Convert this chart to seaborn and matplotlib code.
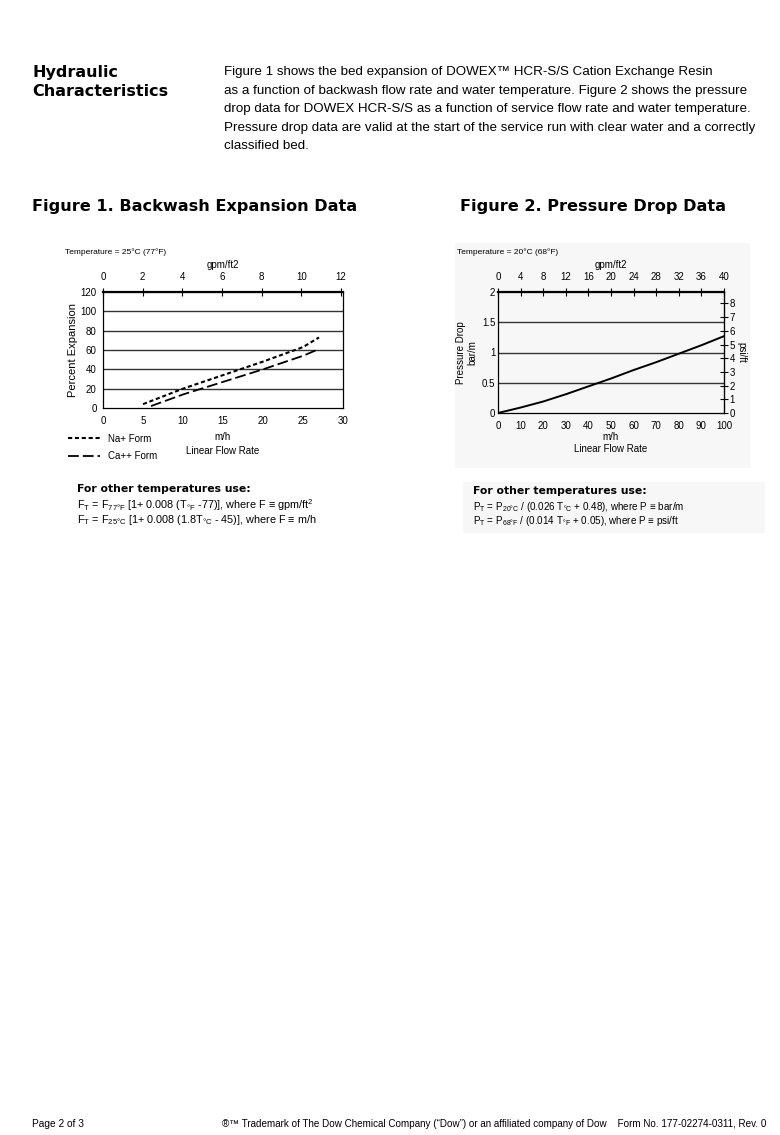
import pandas as pd
import matplotlib.pyplot as plt
import seaborn as sns
from matplotlib.patches import Rectangle
from matplotlib.ticker import MultipleLocator

# Figure 1 - backwash expansion (m/h vs % expansion)
na_flow = [5, 10, 15, 20, 25, 27]
na_expansion = [4, 20, 34, 48, 63, 73]
ca_flow = [6, 10, 15, 20, 25, 27]
ca_expansion = [2, 14, 27, 40, 54, 61]

# Figure 2 - pressure drop (m/h vs bar/m)
dp_flow = [0, 10, 20, 30, 40, 50, 60, 70, 80, 90, 100]
dp_bar = [0, 0.09, 0.19, 0.31, 0.44, 0.57, 0.71, 0.84, 0.98, 1.12, 1.27]

body_lines = [
    "Figure 1 shows the bed expansion of DOWEX\u2122 HCR-S/S Cation Exchange Resin",
    "as a function of backwash flow rate and water temperature. Figure 2 shows the pressure",
    "drop data for DOWEX HCR-S/S as a function of service flow rate and water temperature.",
    "Pressure drop data are valid at the start of the service run with clear water and a correctly",
    "classified bed.",
]

sns.set_style("white")
plt.rcParams["font.family"] = ["Liberation Sans", "DejaVu Sans"]
plt.rcParams["mathtext.fontset"] = "custom"
plt.rcParams["mathtext.rm"] = "Liberation Sans"
for k in ["text.color", "axes.labelcolor", "xtick.color", "ytick.color"]:
    plt.rcParams[k] = "black"
heavy = ["DejaVu Sans"]

W, H = 780, 1135
fig = plt.figure(figsize=(W / 100, H / 100), dpi=100)


def px(x, y):
    return x / W, 1 - y / H


def txt(x, y, s, **kw):
    fig.text(*px(x, y), s, va="center", **kw)


# header text
txt(32, 72, "Hydraulic", fontsize=11.5, fontweight="bold", family=heavy)
txt(32, 92, "Characteristics", fontsize=11.5, fontweight="bold", family=heavy)
for i, line in enumerate(body_lines):
    txt(224, 72 + i * 18.6, line, fontsize=9.6)

txt(32, 207, "Figure 1. Backwash Expansion Data", fontsize=11.6, fontweight="bold", family=heavy)
txt(460, 207, "Figure 2. Pressure Drop Data", fontsize=11.6, fontweight="bold", family=heavy)

# faint grey backgrounds behind figure 2 and its formula box
fig.patches.append(Rectangle(px(455, 468), 295 / W, 225 / H, transform=fig.transFigure,
                             facecolor="#f7f7f7", edgecolor="none", zorder=-1))
fig.patches.append(Rectangle(px(463, 533), 302 / W, 51 / H, transform=fig.transFigure,
                             facecolor="#f7f7f7", edgecolor="none", zorder=-1))

tick_fs = 7
lab_fs = 7
grid_c = "#333333"

# ---------------- Figure 1 ----------------
ax1 = fig.add_axes([103 / W, 1 - 408 / H, 240 / W, 116 / H])
na = pd.DataFrame({"flow": na_flow, "exp": na_expansion})
ca = pd.DataFrame({"flow": ca_flow, "exp": ca_expansion})
sns.lineplot(data=na, x="flow", y="exp", ax=ax1, color="black", lw=1.5,
             label="Na+ Form")
sns.lineplot(data=ca, x="flow", y="exp", ax=ax1, color="black", lw=1.3,
             label="Ca++ Form")
ax1.lines[0].set_dashes((2, 1.3))
ax1.lines[1].set_dashes((6, 2.2))
ax1.set_xlim(0, 30)
ax1.set_ylim(0, 120)
ax1.xaxis.set_major_locator(MultipleLocator(5))
ax1.xaxis.set_minor_locator(MultipleLocator(1))
ax1.yaxis.set_major_locator(MultipleLocator(20))
for y in range(20, 120, 20):
    ax1.axhline(y, color=grid_c, lw=1.0, zorder=0)
ax1.tick_params(axis="x", which="both", direction="inout", labelsize=tick_fs, pad=3)
ax1.tick_params(axis="x", which="major", length=6, width=0.8)
ax1.tick_params(axis="x", which="minor", length=4, width=0.8)
ax1.tick_params(axis="y", direction="out", length=3, labelsize=tick_fs, pad=1.5)
ax1.set_xlabel("m/h\nLinear Flow Rate", fontsize=lab_fs, labelpad=4, linespacing=1.5)
ax1.set_ylabel("Percent Expansion", fontsize=8, labelpad=2)
for s in ax1.spines.values():
    s.set_color("black")
    s.set_linewidth(0.9)
ax1.spines["top"].set_linewidth(1.6)
top1 = ax1.secondary_xaxis("top", functions=(lambda v: v / 2.48, lambda v: v * 2.48))
top1.set_ticks(range(0, 13, 2))
top1.tick_params(direction="inout", length=6, width=0.8, labelsize=tick_fs, pad=4)
top1.set_xlabel("gpm/ft2", fontsize=lab_fs, labelpad=3)
handles, labels = ax1.get_legend_handles_labels()
ax1.get_legend().remove()
fig.legend(handles, labels, loc="upper left", bbox_to_anchor=px(64, 430), frameon=False,
           fontsize=lab_fs, handlelength=3.3, handletextpad=0.8, labelspacing=0.75,
           borderaxespad=0)
txt(65, 252, "Temperature = 25\u00b0C (77\u00b0F)", fontsize=6)

# ---------------- Figure 2 ----------------
ax2 = fig.add_axes([498 / W, 1 - 413 / H, 226 / W, 121 / H])
dp = pd.DataFrame({"flow": dp_flow, "bar": dp_bar})
sns.lineplot(data=dp, x="flow", y="bar", ax=ax2, color="black", lw=1.4)
ax2.set_xlim(0, 100)
ax2.set_ylim(0, 2)
ax2.xaxis.set_major_locator(MultipleLocator(10))
ax2.set_yticks([0, 0.5, 1, 1.5, 2], ["0", "0.5", "1", "1.5", "2"])
for y in [0.5, 1.0, 1.5]:
    ax2.axhline(y, color=grid_c, lw=1.0, zorder=0)
ax2.tick_params(axis="x", direction="inout", length=5, width=0.8, labelsize=tick_fs, pad=3)
ax2.tick_params(axis="y", direction="in", length=3, labelsize=tick_fs, pad=2)
ax2.set_xlabel("m/h\nLinear Flow Rate", fontsize=lab_fs, labelpad=1, linespacing=1.2)
ax2.set_ylabel("Pressure Drop\nbar/m", fontsize=lab_fs, labelpad=3, linespacing=1.2)
ax2.set_facecolor("none")
for s in ax2.spines.values():
    s.set_color("black")
    s.set_linewidth(0.9)
ax2.spines["top"].set_linewidth(1.6)
top2 = ax2.secondary_xaxis("top", functions=(lambda v: v / 2.5, lambda v: v * 2.5))
top2.set_ticks(range(0, 41, 4))
top2.tick_params(direction="inout", length=6, width=0.8, labelsize=tick_fs, pad=4)
top2.set_xlabel("gpm/ft2", fontsize=lab_fs, labelpad=3)
right2 = ax2.secondary_yaxis("right", functions=(lambda v: v * 4.42, lambda v: v / 4.42))
right2.set_ticks(range(0, 9))
right2.tick_params(direction="inout", length=6, width=0.8, labelsize=tick_fs, pad=1)
right2.set_ylabel("psi/ft", fontsize=lab_fs, rotation=270, labelpad=8)
txt(457, 252, "Temperature = 20\u00b0C (68\u00b0F)", fontsize=6)

# ---------------- formulas ----------------
eq = "\u2261"
txt(77, 489, "For other temperatures use:", fontsize=7.8, fontweight="bold", family=heavy)
txt(77, 505, r"F$_\mathregular{T}$ = F$_\mathregular{77\degree F}$ [1+ 0.008 (T$_\mathregular{\degree F}$ -77)], where F "
    + eq + r" gpm/ft$^\mathregular{2}$", fontsize=7.8)
txt(77, 520, r"F$_\mathregular{T}$ = F$_\mathregular{25\degree C}$ [1+ 0.008 (1.8T$_\mathregular{\degree C}$ - 45)], where F "
    + eq + " m/h", fontsize=7.8)

txt(473, 491, "For other temperatures use:", fontsize=7.8, fontweight="bold", family=heavy)
txt(473, 507, r"P$_\mathregular{T}$ = P$_\mathregular{20\degree C}$ / (0.026 T$_\mathregular{\degree C}$ + 0.48), where P "
    + eq + " bar/m", fontsize=7.1)
txt(473, 521, r"P$_\mathregular{T}$ = P$_\mathregular{68\degree F}$ / (0.014 T$_\mathregular{\degree F}$ + 0.05), where P "
    + eq + " psi/ft", fontsize=7.1)

# footer
txt(32, 1124, "Page 2 of 3", fontsize=7.3)
fig.text(*px(766, 1124),
         "\u00ae\u2122 Trademark of The Dow Chemical Company (\u201cDow\u201d) or an affiliated company of Dow"
         "    Form No. 177-02274-0311, Rev. 0",
         fontsize=7.1, ha="right", va="center")

fig.savefig("out.png", dpi=100)
